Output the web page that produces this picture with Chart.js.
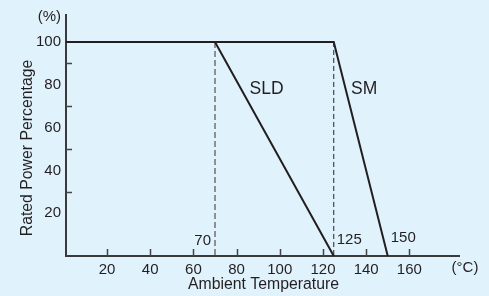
<!DOCTYPE html>
<html>
<head>
<meta charset="utf-8">
<script src="https://cdn.jsdelivr.net/npm/chart.js@4/dist/chart.umd.min.js"></script>
<style>
  html, body { margin: 0; padding: 0; background: #e0f2fc; }
  #wrap { width: 489px; height: 296px; }
</style>
</head>
<body>
<div id="wrap"><canvas id="derating"></canvas></div>
<script>
// derating curves (temperature in C, rated power in %)
var sldTemps = [0, 70, 125];
var sldPower = [100, 100, 0];
var smTemps = [0, 125, 150];
var smPower = [100, 100, 0];
var kneeTemps = [70, 125];

var xTicks = [20, 40, 60, 80, 100, 120, 140, 160];
var yTicks = [20, 40, 60, 80, 100];
var yMinorTicks = [30, 50, 70, 90];

// text labels placed in data units
var noteTexts = ["70", "125", "150", "SLD", "SM"];
var noteTemps = [70, 125, 150, 86, 133];
var notePower = [7, 7.5, 8.4, 78, 78];
var noteAlign = ["right", "left", "left", "left", "left"];

var FONT = "'Liberation Sans', Arial, sans-serif";
var INK = "#231f20";

function toPoints(xs, ys) {
  return xs.map(function(x, i) { return {x: x, y: ys[i]}; });
}

var extras = {
  id: "extras",
  afterDatasetsDraw: function(chart) {
    var ctx = chart.ctx;
    var xs = chart.scales.x, ys = chart.scales.y;
    var a = chart.chartArea;
    ctx.save();
    // inward tick marks
    ctx.strokeStyle = "#444";
    ctx.lineWidth = 1.5;
    ctx.beginPath();
    yMinorTicks.forEach(function(v) {
      var py = Math.round(ys.getPixelForValue(v)) + 0.5;
      ctx.moveTo(a.left, py); ctx.lineTo(a.left + 6, py);
    });
    xTicks.forEach(function(v) {
      var px = Math.round(xs.getPixelForValue(v)) + 0.5;
      ctx.moveTo(px, a.bottom); ctx.lineTo(px, a.bottom - 7);
    });
    ctx.stroke();

    // notes
    ctx.fillStyle = INK;
    ctx.textBaseline = "middle";
    noteTexts.forEach(function(t, i) {
      var big = isNaN(t);
      ctx.font = (big ? "17.5px " : "15px ") + FONT;
      ctx.textAlign = noteAlign[i];
      var off = noteAlign[i] === "right" ? -4 : 3;
      if (big) off = 0;
      ctx.fillText(t, xs.getPixelForValue(noteTemps[i]) + off, ys.getPixelForValue(notePower[i]));
    });

    // unit and axis titles
    ctx.font = "15px " + FONT;
    ctx.textAlign = "center";
    ctx.fillText("(\u00b0C)", a.right + 6, a.bottom + 12);
    ctx.font = "15.8px " + FONT;
    ctx.fillText("Ambient Temperature", (a.left + a.right) / 2 + 1, a.bottom + 29);
    ctx.translate(28, 148);
    ctx.rotate(-Math.PI / 2);
    ctx.fillText("Rated Power Percentage", 0, 0);
    ctx.restore();
  }
};

new Chart(document.getElementById("derating"), {
  type: "line",
  data: {
    datasets: [
      {
        label: "SLD",
        data: toPoints(sldTemps, sldPower),
        borderColor: INK, borderWidth: 2, pointRadius: 0, tension: 0
      },
      {
        label: "SM",
        data: toPoints(smTemps, smPower),
        borderColor: INK, borderWidth: 2, pointRadius: 0, tension: 0
      },
      {
        label: "70 knee",
        data: toPoints([kneeTemps[0], kneeTemps[0]], [sldPower[1], 0]),
        borderColor: "#707070", borderWidth: 1.5, borderDash: [6, 3], pointRadius: 0
      },
      {
        label: "125 knee",
        data: toPoints([kneeTemps[1], kneeTemps[1]], [smPower[1], 0]),
        borderColor: "#222", borderWidth: 1, borderDash: [5, 3], pointRadius: 0
      }
    ]
  },
  options: {
    responsive: true,
    maintainAspectRatio: false,
    animation: false,
    events: [],
    layout: { padding: { top: 15, right: 30, left: 0, bottom: 0 } },
    plugins: { legend: { display: false }, tooltip: { enabled: false } },
    scales: {
      x: {
        type: "linear",
        min: 1,
        max: 183,
        grid: { display: false, drawTicks: false },
        border: { display: true, color: "#3a3a3a", width: 2 },
        afterBuildTicks: function(s) { s.ticks = xTicks.map(function(v) { return {value: v}; }); },
        afterFit: function(s) { s.height = 40; },
        ticks: { color: INK, padding: 5, maxRotation: 0, autoSkip: false, font: { family: FONT, size: 15 } }
      },
      y: {
        type: "linear",
        min: 0,
        max: 112.6,
        grid: { display: false, drawTicks: false },
        border: { display: true, color: "#3a3a3a", width: 2 },
        afterBuildTicks: function(s) {
          s.ticks = yTicks.concat([111.8]).map(function(v) { return {value: v}; });
        },
        afterFit: function(s) { s.width = 66; },
        ticks: {
          color: INK, padding: 5, autoSkip: false,
          font: { family: FONT, size: 15 },
          callback: function(v) { return v > 100 ? "(%)" : v; }
        }
      }
    }
  },
  plugins: [extras]
});
</script>
</body>
</html>
